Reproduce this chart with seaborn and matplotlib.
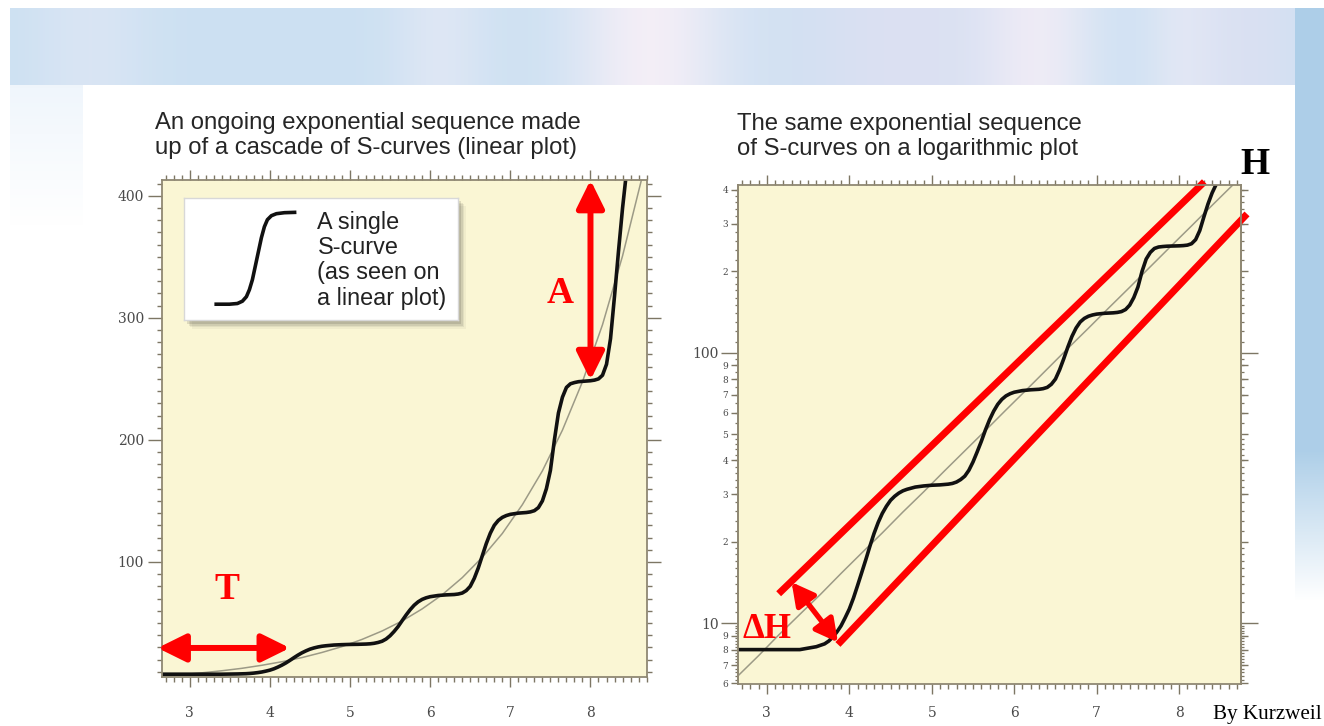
import numpy as np
import pandas as pd
import matplotlib
matplotlib.use("Agg")
import matplotlib.pyplot as plt
import seaborn as sns
from matplotlib.ticker import FixedLocator, FixedFormatter, NullFormatter, MultipleLocator
from matplotlib.patches import Rectangle

# ---------------- data ----------------
seq_x = [2.65, 2.8, 3.0, 3.2, 3.4, 3.5,
         3.60, 3.65, 3.70, 3.75, 3.80, 3.85, 3.90, 3.95, 4.00, 4.05, 4.10, 4.15, 4.20, 4.25,
         4.30, 4.35, 4.40, 4.45, 4.50, 4.55, 4.60, 4.65, 4.70, 4.75, 4.80, 4.90, 5.00, 5.10,
         5.20, 5.25, 5.30, 5.35, 5.40, 5.45, 5.50, 5.55, 5.60, 5.65, 5.70, 5.75, 5.80, 5.85,
         5.90, 5.95, 6.00, 6.10, 6.20, 6.30, 6.35, 6.40, 6.45, 6.50, 6.55, 6.60, 6.65, 6.70,
         6.75, 6.80, 6.85, 6.90, 6.95, 7.00, 7.10, 7.20, 7.25, 7.30, 7.35, 7.40, 7.45, 7.50,
         7.55, 7.60, 7.65, 7.70, 7.75, 7.80, 7.85, 7.90, 8.00, 8.05, 8.10, 8.15, 8.20, 8.25,
         8.30, 8.35, 8.40, 8.45]
seq_y = [8.0, 8.0, 8.0, 8.0, 8.0, 8.1,
         8.2, 8.3, 8.4, 8.6, 8.9, 9.3, 9.8, 10.5, 11.3, 12.4, 13.8, 15.4, 17.2, 19.3,
         21.5, 23.6, 25.5, 27.1, 28.5, 29.5, 30.3, 30.9, 31.3, 31.6, 31.9, 32.2, 32.4, 32.5,
         32.7, 32.9, 33.3, 34.0, 35.0, 36.8, 39.5, 43.0, 47.0, 51.8, 56.5, 60.8, 64.5, 67.3,
         69.3, 70.6, 71.5, 72.5, 73.0, 73.3, 73.7, 74.5, 76.5, 80.0, 86.5, 95.0, 105.0, 115.0,
         123.5, 130.0, 134.0, 136.5, 138.0, 139.0, 140.0, 140.5, 141.0, 142.0, 144.5, 150.0, 160.0, 175.0,
         200.0, 222.0, 235.0, 243.0, 246.0, 247.0, 247.7, 248.0, 248.5, 249.0, 250.0, 253.0, 262.0, 283.0,
         318.0, 355.0, 390.0, 420.0]

trend_x = [2.65, 2.90, 3.15, 3.40, 3.65, 3.90, 4.15, 4.40, 4.65, 4.90, 5.15, 5.40,
           5.65, 5.90, 6.15, 6.40, 6.65, 6.90, 7.15, 7.40, 7.65, 7.90, 8.15, 8.40, 8.65]
trend_y = [6.4, 7.6, 9.1, 10.8, 12.8, 15.3, 18.2, 21.6, 25.8, 30.6, 36.5, 43.4,
           51.6, 61.5, 73.1, 87.1, 103.8, 123.3, 146.9, 174.6, 208.0, 247.7, 294.4, 350.8, 416.9]

# legend glyph (a single S-curve), in legend-box pixel units
glyph_x = [30, 45, 53, 58, 62, 65, 68, 71, 74, 77, 80, 83, 87, 92, 100, 112]
glyph_y = [106.5, 106.5, 105.8, 103.5, 99, 92, 82, 68, 54, 40, 29, 22, 18, 16, 15, 14.6]

x_ticks = [3, 4, 5, 6, 7, 8]
lin_y_ticks = [100, 200, 300, 400]
log_major = [10, 100]
log_labeled_minor = [6, 7, 8, 9, 20, 30, 40, 50, 60, 70, 80, 90, 200, 300, 400]
log_labeled_minor_text = ["6", "7", "8", "9", "2", "3", "4", "5", "6", "7", "8", "9", "2", "3", "4"]

title_left = "An ongoing exponential sequence made\nup of a cascade of S-curves (linear plot)"
title_right = "The same exponential sequence\nof S-curves on a logarithmic plot"
legend_lines = ["A single", "S-curve", "(as seen on", "a linear plot)"]

# ---------------- style ----------------
sns.set_theme(style="ticks")
plt.rcParams["font.family"] = ["DejaVu Sans"]

W, H = 1324, 726
fig = plt.figure(figsize=(W / 100, H / 100), dpi=100)

# ---- background picture (decorative gradient) ----
bg = fig.add_axes([0, 0, 1, 1], zorder=-10)
img = np.ones((H, W, 3))
xs = np.arange(W)[None, :]
ys = np.arange(H)[:, None]
streak = (np.exp(-((xs - 650) / 80.0) ** 2) * 0.9 + np.exp(-((xs - 1040) / 60.0) ** 2) * 0.7
          + np.exp(-((xs - 440) / 50.0) ** 2) * 0.4 + np.exp(-((xs - 1180) / 40.0) ** 2) * 0.4
          + np.exp(-((xs - 90) / 60.0) ** 2) * 0.3)
band = np.zeros((H, W, 3))
for c, (lo, hi) in enumerate([(0.80, 0.97), (0.88, 0.94), (0.95, 0.97)]):
    band[:, :, c] = lo + (hi - lo) * np.clip(streak, 0, 1)
band[:, :, 0] += 0.06 * np.exp(-((xs - 900) / 110.0) ** 2) + 0.05 * np.exp(-((xs - 1250) / 60.0) ** 2)
band = np.clip(band, 0, 1)
mask_top = (ys >= 8) & (ys < 85) & (xs >= 10)
img = np.where(mask_top[:, :, None], band, img)
fade_left = np.clip(1 - (ys - 85) / 140.0, 0, 1) * ((xs >= 10) & (xs < 83)) * (ys >= 85)
img = img * (1 - 0.06 * fade_left[:, :, None] * np.array([1, 0.6, 0.2]))
fade_right = np.clip((600 - ys) / 150.0, 0, 1) * (xs >= 1295) * (ys >= 8)
strip = np.array([0.68, 0.81, 0.91])
img = img * (1 - fade_right[:, :, None]) + strip * fade_right[:, :, None]
bg.imshow(img, aspect="auto", extent=[0, W, H, 0], interpolation="bilinear")
bg.set_xlim(0, W)
bg.set_ylim(H, 0)
bg.axis("off")
bg.add_patch(Rectangle((83, 85), 1295 - 83, H - 85, facecolor="white", edgecolor="none"))

PLOT_BG = "#faf6d4"
FRAME = "#8f8873"
TICKC = "#7d7664"
LABELC = "#4a4a4a"
RED = "#ff0000"


def px(x0, y0, x1, y1):
    return [x0 / W, 1 - y1 / H, (x1 - x0) / W, (y1 - y0) / H]


def style_axes(ax):
    ax.set_facecolor(PLOT_BG)
    for s in ax.spines.values():
        s.set_visible(True)
        s.set_color(FRAME)
        s.set_linewidth(1.3)
    ax.tick_params(which="both", direction="out", colors=TICKC,
                   top=True, right=True, bottom=True, left=True, width=1.0)
    ax.tick_params(which="major", length=7, labelsize=10, labelcolor=LABELC)
    ax.tick_params(which="minor", length=3.5)
    for lab in ax.get_xticklabels() + ax.get_yticklabels():
        lab.set_fontfamily("DejaVu Serif")
    ax.grid(False)


# ---------------- left: linear plot ----------------
axL = fig.add_axes(px(162, 180, 647, 677))
df = pd.DataFrame({"x": seq_x, "y": seq_y})
dt = pd.DataFrame({"x": trend_x, "y": trend_y})
sns.lineplot(data=dt, x="x", y="y", ax=axL, color="#9c9a86", lw=1.1, estimator=None)
sns.lineplot(data=df, x="x", y="y", ax=axL, color="#111111", lw=2.6, estimator=None)
axL.set_xlim(2.655, 8.705)
axL.set_ylim(5.7, 413)
axL.xaxis.set_major_locator(FixedLocator(x_ticks))
axL.xaxis.set_minor_locator(MultipleLocator(0.1))
axL.yaxis.set_major_locator(FixedLocator(lin_y_ticks))
axL.yaxis.set_minor_locator(MultipleLocator(10))
axL.set_xlabel("")
axL.set_ylabel("")
style_axes(axL)
axL.tick_params(axis="x", which="major", pad=14)
axL.tick_params(axis="y", which="major", pad=3, length=10)

head = "<|-|>,head_length=0.85,head_width=0.42"
axL.annotate("", xy=(8.0, 413), xytext=(8.0, 249),
             arrowprops=dict(arrowstyle=head, color=RED, lw=4.3, mutation_scale=20,
                             shrinkA=0, shrinkB=0), annotation_clip=False)
axL.text(7.62, 320, "A", color=RED, fontsize=27, fontweight="bold",
         family="Liberation Serif", ha="center", va="center")
axL.annotate("", xy=(2.6, 29.5), xytext=(4.25, 29.5),
             arrowprops=dict(arrowstyle=head, color=RED, lw=4.3, mutation_scale=20,
                             shrinkA=0, shrinkB=0), annotation_clip=False)
axL.text(3.47, 77, "T", color=RED, fontsize=27, fontweight="bold",
         family="Liberation Serif", ha="center", va="center")

# legend box with shadow
for i, a in enumerate([0.04, 0.06, 0.08, 0.11]):
    off = 8 - i * 1.7
    fig.patches.append(Rectangle(((184 + off) / W, 1 - (321 + off) / H),
                                 274 / W, 123 / H, transform=fig.transFigure,
                                 facecolor="black", alpha=a, edgecolor="none", zorder=5))
axLeg = fig.add_axes(px(184.4, 197.7, 458.2, 320.4), zorder=6)
axLeg.set_facecolor("white")
for s in axLeg.spines.values():
    s.set_color("#d8d8d8")
    s.set_linewidth(1.0)
axLeg.set_xticks([])
axLeg.set_yticks([])
axLeg.set_xlim(0, 273.8)
axLeg.set_ylim(122.7, 0)
axLeg.plot(glyph_x, glyph_y, color="#111111", lw=2.6, solid_capstyle="butt")
for i, t in enumerate(legend_lines):
    axLeg.text(133, 24.7 + 25.2 * i, t, fontsize=16.8, family="Liberation Sans",
               color="#222222", ha="left", va="center")

# ---------------- right: log plot ----------------
axR = fig.add_axes(px(738, 185, 1241, 684))
sns.lineplot(data=dt, x="x", y="y", ax=axR, color="#9c9a86", lw=1.1, estimator=None)
sns.lineplot(data=df, x="x", y="y", ax=axR, color="#111111", lw=2.6, estimator=None)
axR.set_yscale("log")
axR.set_xlim(2.65, 8.75)
axR.set_ylim(5.97, 417)
axR.xaxis.set_major_locator(FixedLocator(x_ticks))
axR.xaxis.set_minor_locator(MultipleLocator(0.1))
axR.yaxis.set_major_locator(FixedLocator(log_major))
axR.yaxis.set_major_formatter(FixedFormatter(["10", "100"]))
axR.yaxis.set_minor_locator(FixedLocator(log_labeled_minor))
axR.yaxis.set_minor_formatter(FixedFormatter(log_labeled_minor_text))
axR.set_xlabel("")
axR.set_ylabel("")
style_axes(axR)
axR.tick_params(axis="x", which="major", pad=9)
axR.tick_params(axis="y", which="major", length=12, pad=2, labelsize=10)
axR.tick_params(axis="y", which="minor", length=5, pad=2, labelsize=6.5, labelcolor=LABELC)
for lab in axR.get_yticklabels(minor=True):
    lab.set_fontfamily("DejaVu Serif")

fine = np.concatenate([np.arange(6.2, 10, 0.2), np.arange(11, 20, 1), np.arange(22, 50, 2),
                       np.arange(55, 100, 5), np.arange(110, 200, 10), np.arange(220, 420, 20)])
for side in ("left", "right"):
    sec = axR.secondary_yaxis(side)
    sec.set_yticks(fine)
    sec.yaxis.set_major_formatter(NullFormatter())
    sec.yaxis.set_minor_locator(FixedLocator([]))
    sec.tick_params(which="both", length=2.5, color=TICKC, direction="out", width=0.9)
    sec.spines[side].set_color(FRAME)

# red band lines and arrow
axR.plot([3.143, 8.306], [12.87, 428.6], color=RED, lw=5, solid_capstyle="butt", clip_on=False)
axR.plot([3.862, 8.823], [8.36, 326], color=RED, lw=5, solid_capstyle="butt", clip_on=False)
axR.annotate("", xy=(3.30, 14.2), xytext=(3.862, 8.51),
             arrowprops=dict(arrowstyle="<|-|>,head_length=0.75,head_width=0.4", color=RED,
                             lw=3.8, mutation_scale=18, shrinkA=0, shrinkB=0),
             annotation_clip=False)
axR.text(3.0, 9.5, "ΔH", color=RED, fontsize=25, fontweight="bold",
         family="Liberation Serif", ha="center", va="center")

# ---------------- titles and texts ----------------
fig.text(155 / W, 1 - 112 / H, title_left, fontsize=17.2, family="Liberation Sans",
         color="#262626", ha="left", va="top", linespacing=1.2)
fig.text(737 / W, 1 - 113 / H, title_right, fontsize=17.2, family="Liberation Sans",
         color="#262626", ha="left", va="top", linespacing=1.2)
fig.text(1255 / W, 1 - 165 / H, "H", fontsize=27, fontweight="bold",
         family="Liberation Serif", color="black", ha="center", va="center")
fig.text(1322 / W, 1 - 714 / H, "By Kurzweil", fontsize=15.2, family="Liberation Serif",
         color="black", ha="right", va="center")

fig.savefig("out.png", dpi=100)
